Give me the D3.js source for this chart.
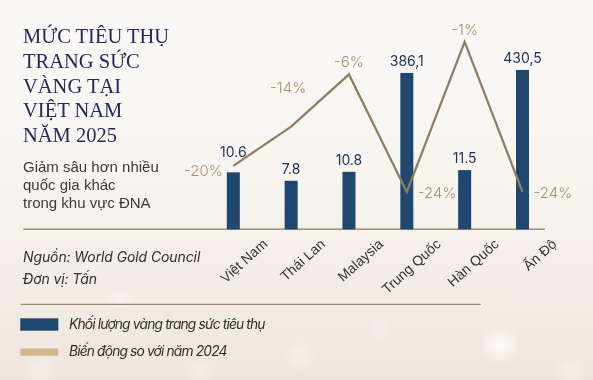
<!DOCTYPE html>
<html>
<head>
<meta charset="utf-8">
<script src="https://cdn.jsdelivr.net/npm/d3@7/dist/d3.min.js"></script>
<style>
  html, body { margin: 0; padding: 0; background: #f6f2ee; }
  svg { display: block; }
</style>
</head>
<body>
<svg id="chart" width="593" height="380"></svg>
<script>
// ---- data ----
const categories = ["Việt Nam", "Thái Lan", "Malaysia", "Trung Quốc", "Hàn Quốc", "Ấn Độ"];
const volumes = [10.6, 7.8, 10.8, 386.1, 11.5, 430.5];
const volumeLabels = ["10.6", "7.8", "10.8", "386,1", "11.5", "430,5"];
const changes = [-20, -14, -6, -24, -1, -24];
const changeLabels = ["-20%", "-14%", "-6%", "-24%", "-1%", "-24%"];
const titleLines = ["MỨC TIÊU THỤ", "TRANG SỨC", "VÀNG TẠI", "VIỆT NAM", "NĂM 2025"];
const subtitleLines = ["Giảm sâu hơn nhiều", "quốc gia khác", "trong khu vực ĐNA"];
const noteLines = ["Nguồn: World Gold Council", "Đơn vị: Tấn"];
const legendItems = ["Khối lượng vàng trang sức tiêu thụ", "Biến động so với năm 2024"];

const NAVY = "#1f4770";
const TAN_LINE = "#8e7d60";
const TAN_TEXT = "#a8916f";
const TAN_LEGEND = "#d4b68e";

const svg = d3.select("#chart");

// ---- background ----
const defs = svg.append("defs");
const bg = defs.append("linearGradient").attr("id", "bg").attr("x1", 0).attr("y1", 0).attr("x2", 0).attr("y2", 1);
bg.append("stop").attr("offset", "0%").attr("stop-color", "#faf8f5");
bg.append("stop").attr("offset", "45%").attr("stop-color", "#f8f5f1");
bg.append("stop").attr("offset", "100%").attr("stop-color", "#eee6de");
defs.append("filter").attr("id", "blur").append("feGaussianBlur").attr("stdDeviation", 6);
svg.append("rect").attr("width", 593).attr("height", 380).attr("fill", "url(#bg)");
const bokeh = [[500, 345, 13, 0.75], [120, 300, 9, 0.4], [300, 355, 11, 0.35], [570, 370, 10, 0.4], [40, 370, 12, 0.3], [380, 330, 8, 0.3], [200, 372, 9, 0.35]];
svg.append("g").attr("filter", "url(#blur)").selectAll("circle").data(bokeh).join("circle")
  .attr("cx", d => d[0]).attr("cy", d => d[1]).attr("r", d => d[2])
  .attr("fill", "#ffffff").attr("opacity", d => d[3]);

// ---- title & texts ----
svg.append("g").selectAll("text").data(titleLines).join("text")
  .attr("x", 23).attr("y", (d, i) => 43 + i * 24.8)
  .attr("font-family", "Liberation Serif, serif").attr("font-size", 20.5)
  .attr("fill", "#24285a").text(d => d);

svg.append("g").selectAll("text").data(subtitleLines).join("text")
  .attr("x", 23).attr("y", (d, i) => 171.5 + i * 18.3)
  .attr("font-family", "Liberation Sans, Arial, sans-serif").attr("font-size", 15)
  .attr("fill", "#3a3a3a").text(d => d);

svg.append("g").selectAll("text").data(noteLines).join("text")
  .attr("x", 23).attr("y", (d, i) => 261.5 + i * 22.5)
  .attr("font-family", "Inter, sans-serif").attr("font-style", "italic").attr("font-size", 14)
  .attr("letter-spacing", -0.1)
  .attr("fill", "#2f2f2f").text(d => d);

// ---- scales ----
const baseY = 229.3;
const x = d3.scalePoint().domain(categories).range([233.3, 522.5]);
const yBar = d3.scaleLog().domain([1.35, 500]).range([baseY, 65.8]);
const yLine = d3.scaleLinear().domain([-30, 0]).range([231.2, 35.2]);
const barW = 13;

// axis
const axis = d3.axisBottom(x).tickSize(0).tickPadding(0).tickFormat(() => "");
const axisG = svg.append("g").attr("transform", `translate(0,${baseY})`).call(axis);
axisG.select(".domain").remove();
svg.append("line").attr("x1", 23.3).attr("x2", 545).attr("y1", baseY).attr("y2", baseY)
  .attr("stroke", "#a08f75").attr("stroke-width", 1.6);

// tick labels
svg.append("g").selectAll("text").data(categories).join("text")
  .attr("transform", d => `translate(${x(d) + 35},${baseY + 16}) rotate(-42)`)
  .attr("text-anchor", "end")
  .attr("font-family", "Liberation Sans, Arial, sans-serif").attr("font-size", 14)
  .attr("fill", "#333").text(d => d);

// bars
svg.append("g").selectAll("rect").data(volumes).join("rect")
  .attr("x", (d, i) => x(categories[i]) - barW / 2)
  .attr("y", d => yBar(d))
  .attr("width", barW)
  .attr("height", d => baseY - yBar(d))
  .attr("fill", NAVY);

// line
const pts = changes.map((v, i) => [x(categories[i]), yLine(v)]);
svg.append("path").datum(pts)
  .attr("d", d3.line())
  .attr("fill", "none").attr("stroke", TAN_LINE).attr("stroke-width", 2.2)
  .attr("stroke-linejoin", "miter");

// bar value labels (lifted if the line point sits on the bar top)
svg.append("g").selectAll("text").data(volumes).join("text")
  .attr("x", (d, i) => x(categories[i]))
  .attr("y", (d, i) => {
    const top = yBar(d);
    const lp = yLine(changes[i]);
    return Math.abs(lp - top) < 15 ? Math.min(top, lp) - 9 : top - 7;
  })
  .attr("text-anchor", "middle")
  .attr("font-family", "Inter, sans-serif").attr("font-size", 14).attr("font-weight", 400)
  .attr("fill", "#1f2f55").text((d, i) => volumeLabels[i]);

// change labels
function placement(i) {
  const v = changes[i];
  if (i === 0) return "left";
  const prev = changes[i - 1], next = i < changes.length - 1 ? changes[i + 1] : -Infinity;
  if (v < prev && (i === changes.length - 1 || v < next)) return "right";
  if (v > prev && v > next) return "above";
  return "aboveFar";
}
svg.append("g").selectAll("text").data(changes).join("text")
  .each(function (d, i) {
    const [px, py] = pts[i];
    const p = placement(i);
    const t = d3.select(this);
    if (p === "left") t.attr("x", px - 10.5).attr("y", py + 10).attr("text-anchor", "end");
    else if (p === "right") t.attr("x", px + 11).attr("y", py + 6).attr("text-anchor", "start");
    else if (p === "above") t.attr("x", px).attr("y", py - 7).attr("text-anchor", "middle");
    else t.attr("x", px - 3).attr("y", py - 34).attr("text-anchor", "middle");
  })
  .attr("font-family", "Inter, sans-serif").attr("font-size", 15).attr("font-weight", 300)
  .attr("fill", TAN_TEXT).text((d, i) => changeLabels[i]);

// separator
svg.append("line").attr("x1", 20.7).attr("x2", 480.7).attr("y1", 304.3).attr("y2", 304.3)
  .attr("stroke", "#9c8b70").attr("stroke-width", 1.2);

// legend
const lg = svg.append("g");
lg.append("rect").attr("x", 20.3).attr("y", 318.3).attr("width", 38).attr("height", 12.4).attr("fill", NAVY);
lg.append("rect").attr("x", 20.3).attr("y", 348.5).attr("width", 38).attr("height", 7.2).attr("fill", TAN_LEGEND);
lg.selectAll("text").data(legendItems).join("text")
  .attr("x", 69).attr("y", (d, i) => 329.3 + i * 26.3)
  .attr("font-family", "Inter, sans-serif").attr("font-style", "italic").attr("font-size", 13.8)
  .attr("letter-spacing", -0.85)
  .attr("fill", "#2f2f2f").text(d => d);
</script>
</body>
</html>
